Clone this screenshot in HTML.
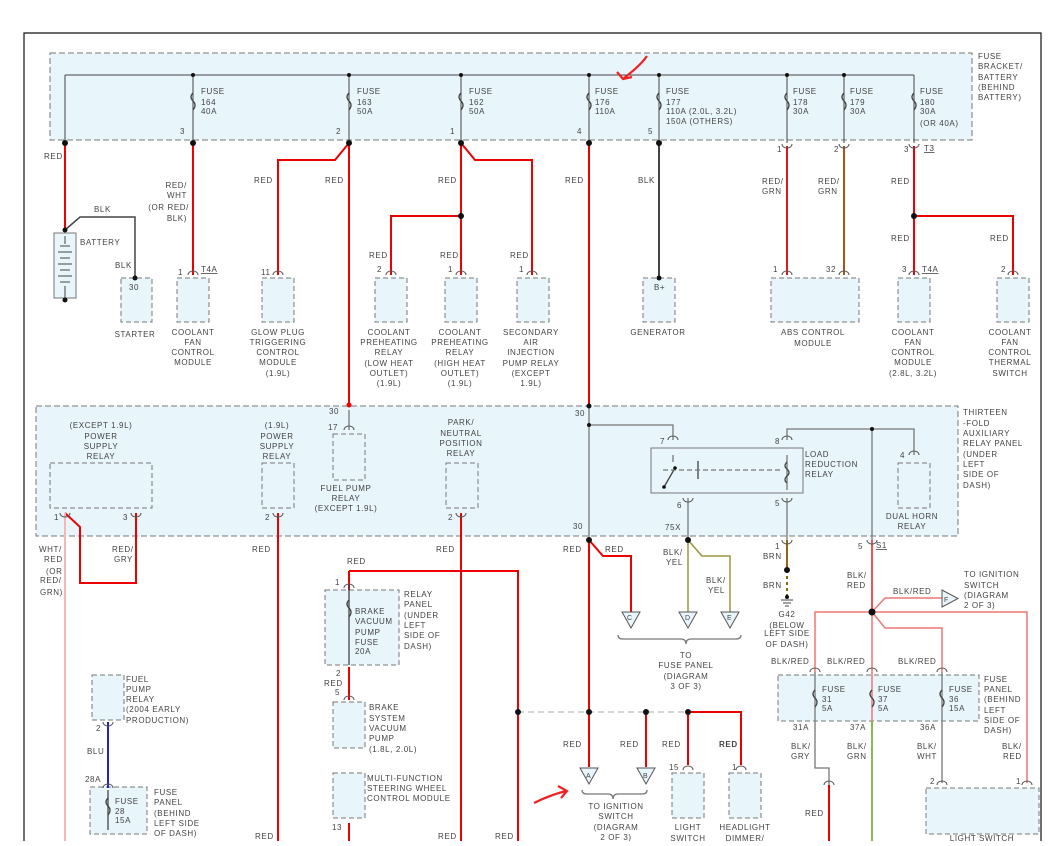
<!DOCTYPE html>
<html><head><meta charset="utf-8"><style>
body{margin:0;background:#fff}
svg text{font-family:"Liberation Sans",sans-serif;font-size:8px;fill:#444;letter-spacing:.6px}
.m{text-anchor:middle}.e{text-anchor:end}
</style></head><body>
<svg width="1049" height="841" viewBox="0 0 1049 841" xmlns="http://www.w3.org/2000/svg">
<g fill="none">
<path d="M24 841V33H1041V841" stroke="#111" stroke-width="1.2"/>
<rect x="50" y="53" width="922" height="87" fill="#e8f5fb" stroke="#777" stroke-dasharray="6,3"/>
<rect x="36" y="406" width="922" height="130" fill="#e8f5fb" stroke="#777" stroke-dasharray="6,3"/>
<g stroke="#777" stroke-dasharray="5,3" fill="#e8f5fb">
<rect x="54" y="233" width="22" height="65" stroke-dasharray="none"/>
<rect x="121" y="278" width="31" height="44"/><rect x="177" y="278" width="32" height="44"/>
<rect x="262" y="278" width="32" height="44"/><rect x="375" y="278" width="32" height="44"/>
<rect x="445" y="278" width="32" height="44"/><rect x="517" y="278" width="32" height="44"/>
<rect x="643" y="278" width="32" height="44"/><rect x="771" y="278" width="88" height="44"/>
<rect x="898" y="278" width="32" height="44"/><rect x="997" y="278" width="32" height="44"/>
<rect x="50" y="463" width="102" height="45"/><rect x="262" y="463" width="32" height="45"/>
<rect x="333" y="434" width="32" height="46"/><rect x="446" y="463" width="32" height="45"/>
<rect x="898" y="463" width="32" height="45"/>
<rect x="325" y="590" width="74" height="75"/><rect x="333" y="702" width="32" height="46"/>
<rect x="333" y="773" width="32" height="45"/><rect x="92" y="675" width="32" height="45"/>
<rect x="90" y="787" width="57" height="47"/><rect x="778" y="675" width="201" height="46"/>
<rect x="672" y="773" width="32" height="45"/><rect x="729" y="773" width="32" height="45"/>
<rect x="926" y="788" width="113" height="46"/>
</g>
<rect x="651" y="448" width="152" height="45" stroke="#777" fill="#e8f5fb"/>
<path d="M65 75H914M193 75V143M349 75V143M461 75V143M589 75V143M659 75V143M787 75V143M844 75V143M914 75V143M65 75V143" stroke="#444"/>
<g stroke="#444" stroke-width="1.3">
<path d="M193 93q-4 4 0 8q4 4 0 9M349 93q-4 4 0 8q4 4 0 9M461 93q-4 4 0 8q4 4 0 9M589 93q-4 4 0 8q4 4 0 9M659 93q-4 4 0 8q4 4 0 9M787 93q-4 4 0 8q4 4 0 9M844 93q-4 4 0 8q4 4 0 9M914 93q-4 4 0 8q4 4 0 9"/>
</g>
<g stroke="#e00" stroke-width="2">
<path d="M65 143V230M193 143V275M349 143L335 160H278V275M349 143V405M461 143V275M461 216H391V275M461 143L475 160H532V275M589 143V405M914 146V275M914 216H1013V275"/>
<path d="M65 513L80 527V583H136V513M278 513V841M461 513V841M349 571H518V841M349 571V590M349 667V700M349 823V841"/>
<path d="M589 540V767M589 540L603 556H631V612M646 712V767M688 712V765M688 712H741V765M829 785V841"/>
</g>
<path d="M65 513V841" stroke="#f4b8b8" stroke-width="2"/>
<path d="M108 722V788" stroke="#22c" stroke-width="2"/>
<path d="M787 146V275M844 146V275" stroke="#e00" stroke-width="2"/>
<path d="M844 146V275" stroke="#6a3" stroke-width="1"/>
<path d="M787 146V275" stroke="#c33" stroke-width="1"/>
<path d="M659 143V278" stroke="#444" stroke-width="2"/>
<path d="M65 230L80 217H135V278" stroke="#444" stroke-width="1.5"/>
<g stroke="#777" stroke-width="1.3">
<path d="M589 405V540M589 425H673V440M787 440V429H914V455M872 429V540M688 498V540M787 498V540M673 455V462M787 455V490"/>
<path d="M349 410V430"/>
<path d="M664 487L675 468M698 461V479" stroke="#444"/>
<path d="M663 470H780" stroke-dasharray="5,3"/>
<path d="M787 462q-4 4 0 7q4 4 0 7q-4 4 0 7" stroke="#444"/>
<path d="M815 672V768H829V785M942 672V783" />
<path d="M518 712H688" stroke="#bbb" stroke-dasharray="6,4"/>
<path d="M618 635q0 4 5 4h58q5 0 5 5q0-5 5-5h45q5 0 5-4M582 790q0 4 5 4h21q5 0 5 5q0-5 5-5h24q5 0 5-4"/>
</g>
<path d="M688 540V612M688 540L702 556H730V612" stroke="#9a9540" stroke-width="1.5"/>
<path d="M787 540V570" stroke="#8b6914" stroke-width="2"/>
<path d="M787 570V598" stroke="#8b6914" stroke-width="2" stroke-dasharray="3,3"/>
<path d="M781 600h12M783 603h8M785 606h4" stroke="#444"/>
<g stroke="#e77" stroke-width="1.5">
<path d="M872 540V841M872 612L885 598H942M872 612H815V672M872 612H1027V783M872 612L885 628H942V672"/>
</g>
<path d="M872 721V841" stroke="#6b3" stroke-width="1.5"/>
<path d="M872 540V612" stroke="#e33" stroke-width="1.5"/>
<g stroke="#444" stroke-width="1.3">
<path d="M349 600q-4 4 0 8q4 4 0 9M108 798q-4 4 0 8q4 4 0 9M815 690q-4 4 0 8q4 4 0 9M872 690q-4 4 0 8q4 4 0 9M942 690q-4 4 0 8q4 4 0 9"/>
<path d="M108 790V830M349 585V665"/>
</g>
<g stroke="#555" fill="#e8f5fb">
<path d="M622 612h18l-9 16zM679 612h18l-9 16zM721 612h18l-9 16zM580 768h18l-9 16zM637 768h18l-9 16zM942 590v17l16-8.5z"/>
</g>
<path d="M60 246h10M58 252h14M60 258h10M58 264h14M60 270h10M58 276h14M60 282h10M65 236V244M65 286V298" stroke="#444"/>
<path d="M647 56Q640 66 624 78M617 72l6 7 9-2M534 803Q550 795 566 791M558 786l9 5-6 7" stroke="#e22" stroke-width="2.2"/>
<g stroke="#555">
<path d="M188 275a5 4 0 0 1 10 0M273 275a5 4 0 0 1 10 0M386 275a5 4 0 0 1 10 0M456 275a5 4 0 0 1 10 0M527 275a5 4 0 0 1 10 0M782 275a5 4 0 0 1 10 0M839 275a5 4 0 0 1 10 0M909 275a5 4 0 0 1 10 0M1008 275a5 4 0 0 1 10 0"/>
<path d="M782 144a5 4 0 0 0 10 0M839 144a5 4 0 0 0 10 0M909 144a5 4 0 0 0 10 0M60 513a5 4 0 0 0 10 0M131 513a5 4 0 0 0 10 0M273 513a5 4 0 0 0 10 0M456 513a5 4 0 0 0 10 0M683 498a5 4 0 0 0 10 0M782 498a5 4 0 0 0 10 0M782 540a5 4 0 0 0 10 0M867 540a5 4 0 0 0 10 0M103 722a5 4 0 0 0 10 0"/>
<path d="M344 430a5 4 0 0 1 10 0M668 440a5 4 0 0 1 10 0M782 440a5 4 0 0 1 10 0M909 455a5 4 0 0 1 10 0M344 588a5 4 0 0 1 10 0M344 700a5 4 0 0 1 10 0M683 770a5 4 0 0 1 10 0M736 770a5 4 0 0 1 10 0M810 672a5 4 0 0 1 10 0M867 672a5 4 0 0 1 10 0M937 672a5 4 0 0 1 10 0M937 785a5 4 0 0 1 10 0M1022 785a5 4 0 0 1 10 0M824 785a5 4 0 0 1 10 0M103 788a5 4 0 0 1 10 0"/>
</g>
</g>
<g fill="#111">
<circle cx="193" cy="75" r="2"/><circle cx="349" cy="75" r="2"/><circle cx="461" cy="75" r="2"/><circle cx="589" cy="75" r="2"/><circle cx="659" cy="75" r="2"/><circle cx="787" cy="75" r="2"/><circle cx="844" cy="75" r="2"/>
<circle cx="65" cy="143" r="3"/><circle cx="193" cy="143" r="3"/><circle cx="349" cy="143" r="3"/><circle cx="461" cy="143" r="3"/><circle cx="589" cy="143" r="3"/><circle cx="659" cy="143" r="3"/>
<circle cx="461" cy="216" r="3"/><circle cx="914" cy="216" r="3"/><circle cx="65" cy="230" r="2.5"/><circle cx="65" cy="300" r="2.5"/><circle cx="135" cy="278" r="2.5"/><circle cx="659" cy="278" r="2.5"/>
<circle cx="349" cy="405" r="2.5" fill="#e00"/><circle cx="589" cy="406" r="2.5"/><circle cx="589" cy="425" r="2"/><circle cx="872" cy="429" r="2"/>
<circle cx="589" cy="540" r="3"/><circle cx="688" cy="540" r="3"/><circle cx="787" cy="570" r="3"/><circle cx="787" cy="597" r="2"/><circle cx="872" cy="612" r="3.5"/>
<circle cx="518" cy="712" r="3"/><circle cx="589" cy="712" r="3"/><circle cx="646" cy="712" r="3"/><circle cx="688" cy="712" r="3"/>
<circle cx="675" cy="468" r="1.8"/><circle cx="664" cy="487" r="1.8"/>
</g>
<text x="201" y="94">FUSE</text><text x="201" y="105">164</text><text x="201" y="114">40A</text>
<text x="357" y="94">FUSE</text><text x="357" y="105">163</text><text x="357" y="114">50A</text>
<text x="469" y="94">FUSE</text><text x="469" y="105">162</text><text x="469" y="114">50A</text>
<text x="595" y="94">FUSE</text><text x="595" y="105">176</text><text x="595" y="114">110A</text>
<text x="666" y="94">FUSE</text><text x="666" y="105">177</text><text x="666" y="114">110A  (2.0L, 3.2L)</text><text x="666" y="124">150A  (OTHERS)</text>
<text x="793" y="94">FUSE</text><text x="793" y="105">178</text><text x="793" y="114">30A</text>
<text x="850" y="94">FUSE</text><text x="850" y="105">179</text><text x="850" y="114">30A</text>
<text x="920" y="94">FUSE</text><text x="920" y="105">180</text><text x="920" y="114">30A</text><text x="920" y="126">(OR 40A)</text>
<text x="978" y="59">FUSE</text><text x="978" y="69">BRACKET/</text><text x="978" y="80">BATTERY</text><text x="978" y="90">(BEHIND</text><text x="978" y="100">BATTERY)</text>
<text x="180" y="134">3</text><text x="336" y="134">2</text><text x="450" y="134">1</text><text x="577" y="134">4</text><text x="648" y="134">5</text>
<text x="777" y="152">1</text><text x="834" y="152">2</text><text x="904" y="152">3</text><text x="924" y="151" text-decoration="underline">T3</text>
<text x="44" y="159">RED</text><text x="187" y="188" class="e">RED/</text><text x="187" y="198" class="e">WHT</text><text x="189" y="210" class="e">(OR RED/</text><text x="187" y="221" class="e">BLK)</text>
<text x="254" y="183">RED</text><text x="325" y="183">RED</text><text x="438" y="183">RED</text><text x="565" y="183">RED</text><text x="638" y="183">BLK</text>
<text x="762" y="184">RED/</text><text x="762" y="194">GRN</text><text x="818" y="184">RED/</text><text x="818" y="194">GRN</text><text x="891" y="184">RED</text>
<text x="94" y="212">BLK</text><text x="80" y="245">BATTERY</text><text x="115" y="268">BLK</text><text x="129" y="290">30</text>
<text x="369" y="258">RED</text><text x="440" y="258">RED</text><text x="510" y="258">RED</text><text x="891" y="241">RED</text><text x="990" y="241">RED</text>
<text x="178" y="275">1</text><text x="201" y="272" text-decoration="underline">T4A</text><text x="261" y="275">11</text><text x="377" y="272">2</text><text x="448" y="272">1</text><text x="519" y="272">1</text>
<text x="773" y="272">1</text><text x="826" y="272">32</text><text x="902" y="272">3</text><text x="922" y="272" text-decoration="underline">T4A</text><text x="1001" y="272">2</text>
<text x="654" y="290">B+</text>
<text x="135" y="337" class="m">STARTER</text>
<text x="193" y="335" class="m">COOLANT</text><text x="193" y="345" class="m">FAN</text><text x="193" y="355" class="m">CONTROL</text><text x="193" y="365" class="m">MODULE</text>
<text x="278" y="335" class="m">GLOW PLUG</text><text x="278" y="345" class="m">TRIGGERING</text><text x="278" y="355" class="m">CONTROL</text><text x="278" y="365" class="m">MODULE</text><text x="278" y="376" class="m">(1.9L)</text>
<text x="389" y="335" class="m">COOLANT</text><text x="389" y="345" class="m">PREHEATING</text><text x="389" y="355" class="m">RELAY</text><text x="389" y="366" class="m">(LOW HEAT</text><text x="389" y="376" class="m">OUTLET)</text><text x="389" y="386" class="m">(1.9L)</text>
<text x="460" y="335" class="m">COOLANT</text><text x="460" y="345" class="m">PREHEATING</text><text x="460" y="355" class="m">RELAY</text><text x="460" y="366" class="m">(HIGH HEAT</text><text x="460" y="376" class="m">OUTLET)</text><text x="460" y="386" class="m">(1.9L)</text>
<text x="531" y="335" class="m">SECONDARY</text><text x="531" y="345" class="m">AIR</text><text x="531" y="355" class="m">INJECTION</text><text x="531" y="366" class="m">PUMP RELAY</text><text x="531" y="376" class="m">(EXCEPT</text><text x="531" y="386" class="m">1.9L)</text>
<text x="658" y="335" class="m">GENERATOR</text>
<text x="813" y="335" class="m">ABS CONTROL</text><text x="813" y="346" class="m">MODULE</text>
<text x="913" y="335" class="m">COOLANT</text><text x="913" y="345" class="m">FAN</text><text x="913" y="355" class="m">CONTROL</text><text x="913" y="365" class="m">MODULE</text><text x="913" y="376" class="m">(2.8L, 3.2L)</text>
<text x="1010" y="335" class="m">COOLANT</text><text x="1010" y="345" class="m">FAN</text><text x="1010" y="355" class="m">CONTROL</text><text x="1010" y="365" class="m">THERMAL</text><text x="1010" y="376" class="m">SWITCH</text>
<text x="101" y="428" class="m">(EXCEPT 1.9L)</text><text x="101" y="439" class="m">POWER</text><text x="101" y="449" class="m">SUPPLY</text><text x="101" y="459" class="m">RELAY</text>
<text x="277" y="428" class="m">(1.9L)</text><text x="277" y="439" class="m">POWER</text><text x="277" y="449" class="m">SUPPLY</text><text x="277" y="459" class="m">RELAY</text>
<text x="346" y="491" class="m">FUEL PUMP</text><text x="346" y="501" class="m">RELAY</text><text x="346" y="511" class="m">(EXCEPT 1.9L)</text>
<text x="461" y="425" class="m">PARK/</text><text x="461" y="436" class="m">NEUTRAL</text><text x="461" y="446" class="m">POSITION</text><text x="461" y="456" class="m">RELAY</text>
<text x="912" y="519" class="m">DUAL HORN</text><text x="912" y="529" class="m">RELAY</text>
<text x="686" y="658" class="m">TO</text><text x="686" y="668" class="m">FUSE PANEL</text><text x="686" y="679" class="m">(DIAGRAM</text><text x="686" y="689" class="m">3 OF 3)</text>
<text x="787" y="617" class="m">G42</text><text x="787" y="628" class="m">(BELOW</text><text x="787" y="636" class="m">LEFT SIDE</text><text x="787" y="647" class="m">OF DASH)</text>
<text x="616" y="809" class="m">TO IGNITION</text><text x="616" y="819" class="m">SWITCH</text><text x="616" y="830" class="m">(DIAGRAM</text><text x="616" y="840" class="m">2 OF 3)</text>
<text x="688" y="830" class="m">LIGHT</text><text x="688" y="841" class="m">SWITCH</text><text x="745" y="830" class="m">HEADLIGHT</text><text x="745" y="841" class="m">DIMMER/</text>
<text x="982" y="841" class="m">LIGHT SWITCH</text>
<text x="963" y="415">THIRTEEN</text><text x="963" y="426">-FOLD</text><text x="963" y="436">AUXILIARY</text><text x="963" y="446">RELAY PANEL</text><text x="963" y="457">(UNDER</text><text x="963" y="467">LEFT</text><text x="963" y="477">SIDE OF</text><text x="963" y="488">DASH)</text>
<text x="329" y="414">30</text><text x="328" y="430">17</text><text x="575" y="416">30</text><text x="660" y="444">7</text><text x="775" y="444">8</text><text x="900" y="458">4</text>
<text x="805" y="457">LOAD</text><text x="805" y="467">REDUCTION</text><text x="805" y="477">RELAY</text>
<text x="677" y="508">6</text><text x="775" y="506">5</text><text x="573" y="529">30</text><text x="665" y="530">75X</text>
<text x="54" y="520">1</text><text x="123" y="520">3</text><text x="265" y="520">2</text><text x="448" y="520">2</text>
<text x="775" y="549">1</text><text x="858" y="549">5</text><text x="876" y="548" text-decoration="underline">S1</text>
<text x="39" y="552">WHT/</text><text x="44" y="562">RED</text><text x="46" y="574">(OR</text><text x="40" y="583">RED/</text><text x="40" y="595">GRN)</text>
<text x="112" y="552">RED/</text><text x="114" y="562">GRY</text><text x="252" y="552">RED</text><text x="436" y="552">RED</text><text x="347" y="564">RED</text>
<text x="563" y="552">RED</text><text x="605" y="552">RED</text><text x="663" y="555">BLK/</text><text x="666" y="565">YEL</text><text x="706" y="583">BLK/</text><text x="708" y="593">YEL</text>
<text x="763" y="559">BRN</text><text x="763" y="588">BRN</text><text x="847" y="578">BLK/</text><text x="847" y="588">RED</text><text x="893" y="594">BLK/RED</text>
<text x="964" y="577">TO IGNITION</text><text x="964" y="588">SWITCH</text><text x="964" y="598">(DIAGRAM</text><text x="964" y="608">2 OF 3)</text>
<text x="627" y="620" style="font-size:7px">C</text><text x="685" y="620" style="font-size:7px">D</text><text x="727" y="620" style="font-size:7px">E</text><text x="944" y="602" style="font-size:7px">F</text>
<text x="586" y="778" style="font-size:7px">A</text><text x="643" y="778" style="font-size:7px">B</text>
<text x="335" y="585">1</text><text x="355" y="614">BRAKE</text><text x="355" y="624">VACUUM</text><text x="355" y="635">PUMP</text><text x="355" y="645">FUSE</text><text x="355" y="654">20A</text>
<text x="404" y="597">RELAY</text><text x="404" y="607">PANEL</text><text x="404" y="618">(UNDER</text><text x="404" y="628">LEFT</text><text x="404" y="638">SIDE OF</text><text x="404" y="649">DASH)</text>
<text x="336" y="676">2</text><text x="324" y="686">RED</text><text x="335" y="695">5</text>
<text x="369" y="710">BRAKE</text><text x="369" y="721">SYSTEM</text><text x="369" y="731">VACUUM</text><text x="369" y="741">PUMP</text><text x="369" y="752">(1.8L, 2.0L)</text>
<text x="367" y="781">MULTI-FUNCTION</text><text x="367" y="791">STEERING WHEEL</text><text x="367" y="801">CONTROL MODULE</text><text x="332" y="830">13</text>
<text x="126" y="682">FUEL</text><text x="126" y="692">PUMP</text><text x="126" y="702">RELAY</text><text x="126" y="712">(2004 EARLY</text><text x="126" y="723">PRODUCTION)</text>
<text x="96" y="731">2</text><text x="87" y="754">BLU</text><text x="85" y="782">28A</text>
<text x="115" y="804">FUSE</text><text x="115" y="814">28</text><text x="115" y="823">15A</text>
<text x="154" y="795">FUSE</text><text x="154" y="805">PANEL</text><text x="154" y="816">(BEHIND</text><text x="154" y="826">LEFT SIDE</text><text x="154" y="836">OF DASH)</text>
<text x="255" y="839">RED</text><text x="438" y="839">RED</text><text x="495" y="839">RED</text>
<text x="563" y="747">RED</text><text x="620" y="747">RED</text><text x="662" y="747">RED</text><text x="719" y="747" style="font-weight:bold">RED</text>
<text x="669" y="770">15</text><text x="732" y="770">1</text>
<text x="771" y="664">BLK/RED</text><text x="827" y="664">BLK/RED</text><text x="898" y="664">BLK/RED</text>
<text x="822" y="692">FUSE</text><text x="822" y="702">31</text><text x="822" y="711">5A</text>
<text x="878" y="692">FUSE</text><text x="878" y="702">37</text><text x="878" y="711">5A</text>
<text x="949" y="692">FUSE</text><text x="949" y="702">36</text><text x="949" y="711">15A</text>
<text x="984" y="682">FUSE</text><text x="984" y="692">PANEL</text><text x="984" y="702">(BEHIND</text><text x="984" y="713">LEFT</text><text x="984" y="723">SIDE OF</text><text x="984" y="733">DASH)</text>
<text x="793" y="730">31A</text><text x="850" y="730">37A</text><text x="920" y="730">36A</text>
<text x="791" y="749">BLK/</text><text x="791" y="759">GRY</text><text x="847" y="749">BLK/</text><text x="847" y="759">GRN</text><text x="917" y="749">BLK/</text><text x="917" y="759">WHT</text><text x="1002" y="749">BLK/</text><text x="1003" y="759">RED</text>
<text x="805" y="816">RED</text><text x="930" y="784">2</text><text x="1016" y="784">1</text>
</svg>
</body></html>
